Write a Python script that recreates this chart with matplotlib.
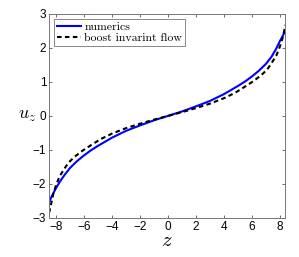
import matplotlib
matplotlib.use("Agg")
import matplotlib.pyplot as plt

plt.rcParams["mathtext.fontset"] = "cm"
plt.rcParams["font.family"] = ["Liberation Sans", "DejaVu Sans"]

# numerics (blue solid)
z_num = [-8.45, -8.35, -8.2, -8.0, -7.7, -7.4, -7.0, -6.5, -6.0, -5.5, -5.0, -4.0, -3.0,
         -2.0, -1.0, 0.0, 1.0, 2.0, 3.0, 4.0, 5.0, 5.5, 6.0, 6.5, 7.0, 7.4, 7.7, 8.0, 8.2, 8.35]
u_num = [-2.5, -2.4, -2.28, -2.12, -1.92, -1.74, -1.53, -1.33, -1.16, -1.01, -0.88, -0.64, -0.44,
         -0.28, -0.13, 0.0, 0.13, 0.28, 0.44, 0.64, 0.88, 1.01, 1.16, 1.33, 1.53, 1.74, 1.95, 2.2, 2.35, 2.47]

# boost invariant flow (black dashed)
z_bj = [-8.5, -8.4, -8.2, -8.0, -7.75, -7.4, -7.1, -6.7, -6.1, -5.5, -4.8, -4.0, -3.0,
        -2.0, -1.0, 0.0, 1.0, 2.0, 3.0, 4.0, 4.8, 5.5, 6.1, 6.7, 7.1, 7.4, 7.75, 8.0, 8.2, 8.4]
u_bj = [-2.85, -2.68, -2.3, -2.04, -1.78, -1.55, -1.37, -1.21, -1.02, -0.86, -0.68, -0.52, -0.36,
        -0.23, -0.11, 0.0, 0.11, 0.23, 0.36, 0.52, 0.68, 0.86, 1.02, 1.21, 1.37, 1.55, 1.78, 2.04, 2.3, 2.68]

xticks = [-8, -6, -4, -2, 0, 2, 4, 6, 8]
yticks = [-3, -2, -1, 0, 1, 2, 3]

fig = plt.figure(figsize=(2.99, 2.57), dpi=100)
ax = fig.add_axes([0.164, 0.152, 0.789, 0.794])

ax.plot(z_num, u_num, color="#0000ff", lw=1.5, label="numerics")
ax.plot(z_bj, u_bj, color="black", lw=1.5, ls=(0, (2.2, 1.6)), label="boost invarint flow")

ax.set_xlim(-8.5, 8.36)
ax.set_ylim(-3, 3)
ax.set_xticks(xticks)
ax.set_yticks(yticks)
ax.set_xticklabels(["\u2212%d" % -t if t < 0 else str(t) for t in xticks])
ax.set_yticklabels(["\u2212%d" % -t if t < 0 else str(t) for t in yticks])
ax.tick_params(direction="in", length=2.5, width=0.6, labelsize=8.5, pad=2,
               top=True, right=True, colors="#555555", labelcolor="black")
for s in ax.spines.values():
    s.set_color("#777777")
    s.set_linewidth(0.7)

ax.set_xlabel("$z$", fontsize=15, labelpad=-1)
ax.set_ylabel("$u_z$", fontsize=13, rotation=0, labelpad=4, va="center")

leg = ax.legend(loc="upper left", prop={"family": "cmr10", "size": 8.5},
                handlelength=2.0, handletextpad=0.3, borderpad=0.25, labelspacing=0.05,
                fancybox=False, framealpha=1, borderaxespad=0.45)
leg.get_frame().set_edgecolor("#888888")
leg.get_frame().set_linewidth(0.7)

fig.savefig("out.png", dpi=100)
